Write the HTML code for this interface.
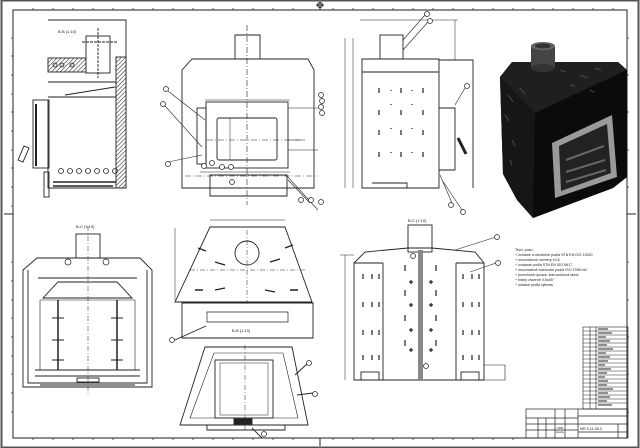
<!DOCTYPE html>
<html><head><meta charset="utf-8"><style>
html,body{margin:0;padding:0;background:#fff}
svg{display:block}
text{font-family:"Liberation Sans",sans-serif;fill:#222}
</style></head><body>
<svg width="640" height="448" viewBox="0 0 640 448" xmlns="http://www.w3.org/2000/svg">
<defs>
<pattern id="h" width="3" height="3" patternUnits="userSpaceOnUse" patternTransform="rotate(45)"><rect width="3" height="3" fill="#fff"/><line x1="0" y1="0" x2="0" y2="3" stroke="#333" stroke-width="1.2"/></pattern>
</defs>
<rect x="0" y="0" width="640" height="448" fill="#fff"/>
<rect x="1.5" y="0.5" width="637" height="447" fill="none" stroke="#555" stroke-width="2"/>
<rect x="13" y="10" width="614" height="428" fill="none" stroke="#222" stroke-width="1"/>
<g stroke="#333" stroke-width="0.8">
<path d="M33 10v-2M53 10v-2M73 10v-2M93 10v-2M113 10v-2M133 10v-2M153 10v-2M173 10v-2M193 10v-2M213 10v-2M233 10v-2M253 10v-2M273 10v-2M293 10v-2M333 10v-2M353 10v-2M373 10v-2M393 10v-2M413 10v-2M433 10v-2M453 10v-2M473 10v-2M493 10v-2M513 10v-2M533 10v-2M553 10v-2M573 10v-2M593 10v-2M613 10v-2"/>
<path d="M33 438v2M53 438v2M73 438v2M93 438v2M113 438v2M133 438v2M153 438v2M173 438v2M193 438v2M213 438v2M233 438v2M253 438v2M273 438v2M293 438v2M333 438v2M353 438v2M373 438v2M393 438v2M413 438v2M433 438v2M453 438v2M473 438v2M493 438v2M513 438v2"/>
<path d="M13 38h-2M13 56h-2M13 75h-2M13 94h-2M13 112h-2M13 131h-2M13 150h-2M13 168h-2M13 187h-2M13 206h-2M13 262h-2M13 281h-2M13 300h-2M13 318h-2M13 337h-2M13 356h-2M13 374h-2M13 393h-2M13 412h-2"/>
<path d="M627 38h2M627 75h2M627 112h2M627 150h2M627 187h2M627 262h2M627 300h2M627 337h2M627 374h2M627 412h2"/>
</g>
<path d="M320 2v8M316 5h8M4 214h9M627 214h9M320 438v8" stroke="#222" stroke-width="1"/>
<circle cx="320" cy="5" r="2.5" fill="none" stroke="#222"/>

<!-- Section view top-left -->
<g stroke="#222" fill="none" stroke-width="0.9">
<path d="M48 20H126V188H48V100"/>
<rect x="116" y="57" width="10" height="131" fill="url(#h)"/>
<rect x="48" y="58" width="38" height="14" fill="url(#h)"/>
<rect x="86" y="36" width="24" height="37" fill="#fff"/>
<path d="M82 42h36M98 28v50" stroke-dasharray="3 1"/>
<path d="M48 82h68M48 97h68M65 95l50-8"/>
<rect x="33" y="100" width="16" height="68"/>
<path d="M36 104v62" stroke-width="2"/>
<path d="M18 160l6-14 5 2-6 14z"/>
<path d="M53 182h63M53 186h60" stroke-width="1.6"/>
<rect x="44" y="172" width="5" height="25"/>
</g>
<g fill="none" stroke="#222" stroke-width="0.8">
<circle cx="61" cy="171" r="2.5"/><circle cx="70" cy="171" r="2.5"/><circle cx="79" cy="171" r="2.5"/><circle cx="88" cy="171" r="2.5"/><circle cx="97" cy="171" r="2.5"/><circle cx="106" cy="171" r="2.5"/><circle cx="115" cy="171" r="2.5"/>
<circle cx="55" cy="65" r="2"/><circle cx="62" cy="65" r="2"/><circle cx="72" cy="65" r="2"/>
</g>
<text x="58" y="33" font-size="4">B-B (1:10)</text>

<!-- Front view -->
<g stroke="#222" fill="none" stroke-width="0.9">
<path d="M235 59V35H260V59"/>
<path d="M192 59H308L314 70V188H182V70Z"/>
<rect x="206" y="102" width="82" height="66"/>
<rect x="217" y="118" width="60" height="42" rx="2"/>
<rect x="197" y="108" width="9" height="56"/>
<path d="M210 175H287V196H210Z"/>
<path d="M247 25V205M185 176H318M207 140H300" stroke-dasharray="6 2 1 2" stroke-width="0.6"/>
<path d="M205 100H290M230 118V160M200 172H290" stroke-width="0.5"/>
<path d="M288 108H318M288 150H318M288 140H305" stroke-width="0.5"/>
<path d="M168 91L205 120M165 106L202 147M168 162L202 155M286 175L318 210M288 180L310 203" stroke-width="0.6"/>
</g>
<g fill="#fff" stroke="#222" stroke-width="0.7">
<circle cx="166" cy="89" r="2.5"/><circle cx="163" cy="104" r="2.5"/><circle cx="168" cy="164" r="2.5"/>
<circle cx="321" cy="95" r="2.5"/><circle cx="322" cy="101" r="2.5"/><circle cx="321" cy="107" r="2.5"/><circle cx="322" cy="113" r="2.5"/>
<circle cx="204" cy="166" r="2.5"/><circle cx="212" cy="163" r="2.5"/><circle cx="222" cy="167" r="2.5"/><circle cx="231" cy="167" r="2.5"/><circle cx="232" cy="182" r="2.5"/>
<circle cx="301" cy="200" r="2.5"/><circle cx="311" cy="200" r="2.5"/><circle cx="321" cy="202" r="2.5"/>
</g>

<!-- Side view -->
<g stroke="#222" fill="none" stroke-width="0.9">
<rect x="380" y="35" width="23" height="24"/>
<path d="M362 59H439V188H362Z"/>
<path d="M362 72H439"/>
<path d="M439 60H473V188M439 108H455V170H439"/>
<path d="M345 38V188M353 38V188M360 20H458M455 20V60" stroke-width="0.5"/>
<path d="M458 138l8 16" stroke-width="3"/>
<path d="M403 40L425 15M403 50L428 22M455 105L465 88M440 175L452 203M442 180L462 210" stroke-width="0.6"/>
<path d="M372 183h35v5" />
</g>
<g stroke="#222" stroke-width="1.2">
<path d="M379 88v5M401 88v5M423 88v5M379 110v5M401 110v5M423 110v5M379 130v5M401 130v5M423 130v5M379 152v5M401 152v5M423 152v5M391 90v1M412 90v1M391 104v1M412 104v1M391 128v1M412 128v1M391 152v1M412 152v1"/>
</g>
<g fill="#fff" stroke="#222" stroke-width="0.7"><circle cx="427" cy="14" r="2.5"/><circle cx="430" cy="21" r="2.5"/><circle cx="467" cy="86" r="2.5"/><circle cx="451" cy="205" r="2.5"/><circle cx="463" cy="212" r="2.5"/></g>

<!-- 3D render -->
<path d="M500 77L512 62L618 62L627 70L627 177L613 188L533 218L517 200L503 174Z" fill="#131313"/>
<path d="M500 77L512 62L618 62L627 70L535 113Z" fill="#1f1f1f"/>
<path d="M500 77L535 113L533 218L517 200L503 174Z" fill="#161616"/>
<path d="M535 113L627 70L627 177L613 188L533 218Z" fill="#0b0b0b"/>
<rect x="531" y="46" width="24" height="22" fill="#444"/>
<ellipse cx="543" cy="46" rx="12" ry="4" fill="#666"/>
<ellipse cx="543" cy="46" rx="8" ry="2.5" fill="#333"/>
<ellipse cx="543" cy="68" rx="12" ry="4" fill="#333"/>
<path d="M552 143L612 115L617 177L555 198Z" fill="#9a9a9a"/>
<path d="M559 146L607 124L611 173L561 191Z" fill="#222"/>
<path d="M566 160L604 146M566 172L605 160M566 182L606 170" stroke="#666" stroke-width="2"/>
<g stroke="#444" stroke-width="1.2"><path d="M508 95l5 7M505 115l4 6M512 140l3 6M520 88l5 6M560 70l6 2M580 75l8 3M595 68l6 2M570 85l5 1M590 90l4 2M510 160l2 5"/></g>

<!-- Bottom-left front section -->
<g stroke="#222" fill="none" stroke-width="0.9">
<rect x="76" y="234" width="24" height="24"/>
<path d="M37 258H140L152 270V387H23V270Z"/>
<path d="M28 270V383H147V270M38 278H137M43 298H132L117 282H58Z"/>
<path d="M40 300H135V370H40Z" stroke-width="0.6"/>
<path d="M58 300V370M117 300V370" stroke-width="1.5"/>
<path d="M35 370H140M35 376H140M40 385H135" stroke-width="0.9"/>
<path d="M88 226V395" stroke-dasharray="5 2 1 2" stroke-width="0.5"/>
<path d="M52 318h12M52 340h12M52 360h12M111 318h12M111 340h12M111 360h12"/>
<rect x="77" y="378" width="22" height="4"/>
</g>
<g fill="#fff" stroke="#222" stroke-width="0.7"><circle cx="68" cy="262" r="3"/><circle cx="106" cy="262" r="3"/></g>
<text x="76" y="228" font-size="4">B-C (1:10)</text>

<!-- Top view -->
<g stroke="#222" fill="none" stroke-width="0.9">
<path d="M210 227H285L312 302H175Z"/>
<circle cx="247" cy="253" r="12"/>
<path d="M182 303H313V338H182Z"/>
<path d="M207 322H288V312H207Z" stroke-width="0.7"/>
<path d="M247 230V302M190 270H305" stroke-dasharray="5 2 1 2" stroke-width="0.5"/>
<path d="M210 220H285M175 228V300" stroke-width="0.5"/>
<path d="M206 326L175 340"/>
</g>
<g stroke="#222" stroke-width="1.4"><path d="M198 248l8 3M215 262l10 3M270 262l10-3M285 248l8-3M195 290l8 0M290 290l8 0M215 290l10 -2M265 290l10 2"/></g>
<circle cx="172" cy="340" r="2.5" fill="#fff" stroke="#222" stroke-width="0.7"/>
<text x="232" y="332" font-size="4">B-B (1:10)</text>

<!-- Bottom section -->
<g stroke="#222" fill="none" stroke-width="0.9">
<path d="M205 347H292L308 425H180Z"/>
<path d="M214 353H283L298 418H190Z" stroke-width="0.6"/>
<rect x="215" y="360" width="58" height="58"/>
<rect x="220" y="363" width="48" height="52" stroke-width="0.5"/>
<path d="M207 425H285V430H207Z"/>
<rect x="234" y="419" width="18" height="5" fill="#222"/>
<path d="M245 345V432" stroke-dasharray="5 2 1 2" stroke-width="0.5"/>
<path d="M295 375L307 364M297 395L313 393M252 428l10 10"/>
</g>
<g fill="#fff" stroke="#222" stroke-width="0.7"><circle cx="309" cy="363" r="2.5"/><circle cx="315" cy="394" r="2.5"/><circle cx="264" cy="434" r="2.5"/></g>

<!-- Rear view -->
<g stroke="#222" fill="none" stroke-width="0.9">
<rect x="408" y="225" width="24" height="27"/>
<path d="M354 263L365 252L408 248H432L475 252L484 263V380H354Z"/>
<path d="M383 263V380M456 263V380M354 263H383M456 263H484"/>
<rect x="361" y="372" width="18" height="8"/>
<rect x="461" y="372" width="18" height="8"/>
<path d="M484 365H505V380H484" stroke-width="0.6"/>
<path d="M340 255H354M345 255V380" stroke-width="0.5"/>
<path d="M455 250L496 237M470 272L496 263" stroke-width="0.6"/>
</g>
<rect x="418" y="250" width="5" height="130" fill="#888"/>
<g stroke="#222" stroke-width="1.2">
<path d="M363 274v5M372 274v5M379 274v5M363 302v5M372 302v5M379 302v5M363 330v5M372 330v5M379 330v5M363 355v5M372 355v5M379 355v5"/>
<path d="M463 274v5M472 274v5M479 274v5M463 302v5M472 302v5M479 302v5M463 330v5M472 330v5M479 330v5M463 355v5M472 355v5M479 355v5"/>
<path d="M405 265v6M436 265v6M405 290v6M436 290v6M405 315v6M436 315v6M405 340v6M436 340v6"/>
<path d="M409 282h4M411 280v4M429 282h4M431 280v4M409 305h4M411 303v4M429 305h4M431 303v4M409 330h4M411 328v4M429 330h4M431 328v4M409 350h4M411 348v4M429 350h4M431 348v4"/>
</g>
<g fill="#fff" stroke="#222" stroke-width="0.7"><circle cx="497" cy="237" r="2.5"/><circle cx="498" cy="263" r="2.5"/><circle cx="413" cy="256" r="2.5"/><circle cx="426" cy="366" r="2.5"/></g>
<text x="408" y="222" font-size="4">B-C (1:10)</text>

<!-- Notes -->
<g font-size="3.6">
<text x="515" y="251">Tech. pozn.:</text>
<text x="515" y="256">+ zvárane a obrobené podľa STN EN ISO 13920</text>
<text x="515" y="261">+ neoznačené rozmery ±0,5</text>
<text x="515" y="266">+ zváranie podľa STN EN ISO 5817</text>
<text x="515" y="271">+ neoznačené tolerancie podľa ISO 2768 mK</text>
<text x="515" y="276">+ povrchová úprava: žiaruvzdorná farba</text>
<text x="515" y="281">+ hrany zrazené 0,5x45°</text>
<text x="515" y="286">+ ostatné podľa výkresu</text>
</g>

<!-- Parts list -->
<g stroke="#222" fill="none" stroke-width="0.6">
<rect x="583" y="327" width="45" height="82"/>
<path d="M590 327V409M596 327V409"/>
<path d="M583 331h45M583 335h45M583 339h45M583 343h45M583 347h45M583 351h45M583 355h45M583 359h45M583 363h45M583 367h45M583 371h45M583 375h45M583 379h45M583 383h45M583 387h45M583 391h45M583 395h45M583 399h45M583 403h45"/>
</g>
<g stroke="#222" stroke-width="1.1"><path d="M598 329h10M598 333h14M598 337h8M598 341h12M598 345h9M598 349h15M598 353h8M598 357h12M598 361h10M598 365h7M598 369h13M598 373h9M598 377h7M598 381h10M598 385h9M598 389h15M598 393h10M598 397h12M598 401h9M598 405h14"/></g>

<!-- Title block -->
<g stroke="#222" fill="none" stroke-width="0.7">
<rect x="526" y="409" width="102" height="29"/>
<path d="M526 418H578M526 424H578M526 430H578M578 409V438M555 409V438M565 409V438M578 416H628M578 424H628M578 432H628M618 424V438M538 418V438M546 418V438"/>
</g>
<text x="580" y="430" font-size="3.6">MR 5-11-06.0</text>
<g font-size="2.8" fill="#336"><text x="557" y="429">KRB</text><text x="556" y="433">stavby</text></g>
</svg>
</body></html>
